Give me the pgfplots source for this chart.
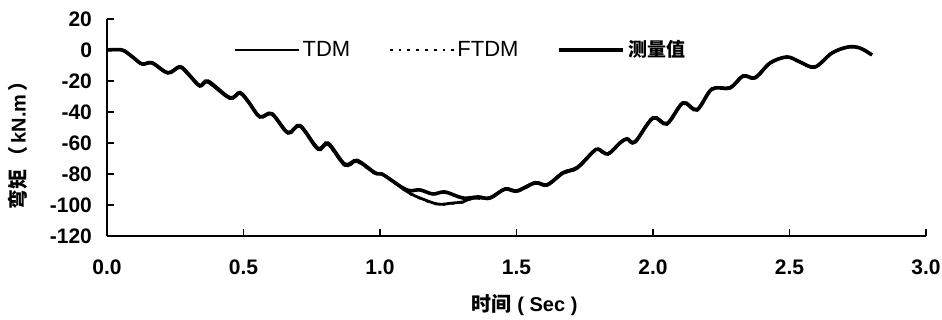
\documentclass[border=0pt]{standalone}
\usepackage{fontspec}
\setmainfont{Liberation Sans}
\newfontfamily\cjk{Noto Sans CJK SC}
\usepackage{pgfplots}
\pgfplotsset{compat=1.18}
\begin{document}
\begin{tikzpicture}
\begin{axis}[
  scale only axis,
  width=409.5pt, height=108.5pt,
  xmin=0, xmax=3, ymin=-120, ymax=20,
  axis lines=left,
  axis line style={-, line width=1pt},
  xtick={0,0.5,...,3.0},
  ytick={-120,-100,...,20},
  tick align=inside,
  major tick length=3.5pt,
  tick style={line width=0.8pt, black},
  /pgf/number format/assume math mode=true,
  xticklabel style={/pgf/number format/fixed, /pgf/number format/fixed zerofill, /pgf/number format/precision=1, yshift=-8.5pt},
  tick label style={font=\bfseries\fontsize{10.5}{12}\selectfont},
  yticklabel style={xshift=-4pt},
  xlabel={\cjk\bfseries 时间\normalfont\bfseries\ ( Sec )},
  xlabel style={font=\fontsize{10}{11}\selectfont, at={(axis description cs:0.51,-0.318)}, anchor=center},
  ylabel={\cjk\bfseries 弯矩\,（\,\normalfont\bfseries kN.m\,\cjk\bfseries）},
  ylabel style={font=\fontsize{10}{11}\selectfont, at={(axis description cs:-0.1087,0.44)}, anchor=center},
  legend style={draw=none, fill=none, at={(axis cs:0.4615,0)}, anchor=west, inner sep=0pt,
    font=\fontsize{11}{12}\selectfont, legend columns=3,
    nodes={inner sep=1.2pt},
    /tikz/every even column/.append style={column sep=18pt}},
  legend image code/.code={\draw[#1] (0pt,0pt) -- (32pt,0pt);},
]
\coordinate (O) at (rel axis cs:0,0);
\coordinate (T) at (rel axis cs:1,1);
% TDM
\addplot[black, line width=1.4pt, smooth, tension=0.55] coordinates {
(0,0) (0.055,0) (0.09,-4) (0.128,-9) (0.165,-8.0) (0.223,-14.5) (0.267,-10.5) (0.30,-15.5) (0.34,-22.8) (0.37,-19.8) (0.45,-30.5) (0.487,-27.2) (0.52,-33.5) (0.56,-42.8) (0.604,-40.8) (0.663,-53) (0.707,-48.5) (0.773,-63.2) (0.81,-59.8) (0.872,-73.5) (0.916,-71) (0.982,-79) (1.007,-80) (1.05,-85) (1.084,-89.5) (1.11,-92.5) (1.147,-95.5) (1.212,-99.4) (1.267,-98.7) (1.304,-98) (1.33,-96) (1.36,-95.5) (1.403,-95.2) (1.458,-89.5) (1.502,-90.6) (1.568,-85.4) (1.612,-86.7) (1.67,-79) (1.722,-75.6) (1.78,-65.5) (1.80,-64) (1.835,-66.8) (1.879,-59.8) (1.905,-57) (1.934,-59) (2.0,-43.5) (2.051,-47.2) (2.11,-33.8) (2.161,-38.2) (2.216,-25) (2.282,-24.2) (2.33,-16.5) (2.374,-17.6) (2.429,-8.2) (2.491,-4.5) (2.538,-7.7) (2.593,-11) (2.656,-1.9) (2.714,1.9) (2.758,1.3) (2.802,-3.2)
};
\addlegendentry{TDM}
% FTDM
\addplot[black, line width=1.2pt, dash pattern=on 1.4pt off 3pt, smooth, tension=0.55] coordinates {
(0,0) (0.055,0) (0.09,-4) (0.128,-9.3) (0.165,-8.6) (0.223,-15) (0.267,-11.3) (0.30,-16.3) (0.34,-23.6) (0.37,-21) (0.45,-31.3) (0.487,-28.1) (0.52,-34.3) (0.56,-43.6) (0.604,-41.7) (0.663,-53.8) (0.707,-49.4) (0.773,-64.4) (0.81,-61.2) (0.872,-74.8) (0.916,-72.2) (0.982,-79.8) (1.007,-80.3) (1.05,-85.3) (1.084,-89.8) (1.11,-92.8) (1.147,-95.8) (1.212,-99.7) (1.267,-99) (1.304,-98.3) (1.33,-96.3) (1.36,-95.8) (1.403,-95.8) (1.458,-90) (1.502,-91.3) (1.568,-86.2) (1.612,-87.5) (1.67,-79.8) (1.722,-76.5) (1.78,-66.2) (1.80,-64.5) (1.835,-67.5) (1.879,-60.3) (1.905,-57.8) (1.934,-59.8) (2.0,-44.3) (2.051,-48.1) (2.11,-34.6) (2.161,-39.1) (2.216,-25.6) (2.282,-24.8) (2.33,-17.1) (2.374,-18.3) (2.429,-8.6) (2.491,-4.5) (2.538,-7.7) (2.593,-11) (2.656,-1.9) (2.714,1.9) (2.758,1.3) (2.802,-3.2)
};
\addlegendentry{FTDM}
% measured
\addplot[black, line width=1.8pt, smooth, tension=0.55] coordinates {
(0,0) (0.055,0) (0.09,-4) (0.128,-9) (0.165,-8.4) (0.223,-14.8) (0.267,-11) (0.30,-16) (0.34,-23.2) (0.37,-20.6) (0.45,-31) (0.487,-27.7) (0.52,-34) (0.56,-43.2) (0.604,-41.3) (0.663,-53.5) (0.707,-49) (0.773,-63.9) (0.81,-60.6) (0.872,-74.2) (0.916,-71.6) (0.982,-79.4) (1.007,-80) (1.05,-85) (1.084,-89) (1.11,-90.8) (1.147,-90.3) (1.194,-92.9) (1.238,-91.6) (1.304,-95.5) (1.359,-94.8) (1.403,-95.5) (1.458,-89.7) (1.502,-91) (1.568,-85.8) (1.612,-87.1) (1.67,-79.4) (1.722,-76.1) (1.78,-65.8) (1.80,-64) (1.835,-67.1) (1.879,-60) (1.905,-57.4) (1.934,-59.4) (2.0,-43.9) (2.051,-47.7) (2.11,-34.2) (2.161,-38.7) (2.216,-25.2) (2.282,-24.5) (2.33,-16.8) (2.374,-18) (2.429,-8.4) (2.491,-4.5) (2.538,-7.7) (2.593,-11) (2.656,-1.9) (2.714,1.9) (2.758,1.3) (2.802,-3.2)
};
\addlegendentry{\hspace{1pt}\cjk\bfseries\fontsize{9.5}{11}\selectfont 测量值}
\end{axis}
\pgfresetboundingbox
\path ([xshift=-53.5pt,yshift=-42pt]O) rectangle ([xshift=8pt,yshift=9.5pt]T);
\end{tikzpicture}
\end{document}
